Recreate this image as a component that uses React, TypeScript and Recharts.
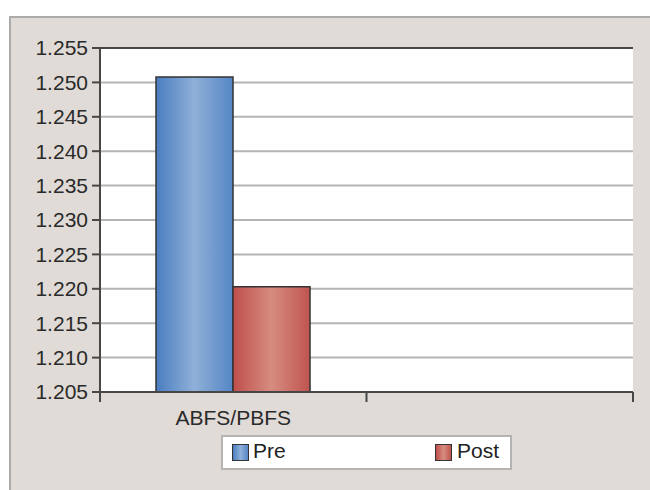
import React from "react";
import { BarChart, Bar, XAxis, YAxis, CartesianGrid, Legend, ReferenceLine } from "recharts";

const categories = ["ABFS/PBFS", ""];
const preValues = [1.2508, null];
const postValues = [1.2203, null];
const yTicks = [1.205, 1.21, 1.215, 1.22, 1.225, 1.23, 1.235, 1.24, 1.245, 1.25, 1.255];
const seriesNames = ["Pre", "Post"];
const seriesKeys = ["pre", "post"];

const data = categories.map((c, i) => ({ name: c, pre: preValues[i], post: postValues[i] }));

const Y_MIN = yTicks[0];
const Y_MAX = yTicks[yTicks.length - 1];

const FONT = "'Liberation Sans', Arial, sans-serif";
const AXIS = "#474747";
const FS = 21;
const X_TICK_SIZE = 10;
const X_TICK_MARGIN = 8;

const gradIds = ["gradPre", "gradPost"];

const CategoryTick = (props: any) => {
  const { x, y, payload, index } = props;
  const half = payload && payload.offset ? payload.offset : 0;
  const y0 = y - X_TICK_SIZE - X_TICK_MARGIN;
  const y1 = y - X_TICK_MARGIN;
  const isLast = index === categories.length - 1;
  return (
    <g>
      <line x1={x - half} x2={x - half} y1={y0} y2={y1} stroke={AXIS} strokeWidth={2} />
      {isLast && <line x1={x + half} x2={x + half} y1={y0} y2={y1} stroke={AXIS} strokeWidth={2} />}
      <text
        x={x}
        y={y}
        dy="0.71em"
        textAnchor="middle"
        fill="#2a2a2a"
        fontSize={FS}
        fontFamily={FONT}
      >
        {payload.value}
      </text>
    </g>
  );
};

const LegendBox = () => {
  const swLeft = [11, 214];
  const txtLeft = [32, 236];
  return (
    <div
      style={{
        position: "relative",
        width: 291,
        height: 35,
        background: "#fff",
        boxShadow: "inset 0 0 0 2px #b4b4b4",
        fontFamily: FONT,
        fontSize: FS,
        color: "#222",
      }}
    >
      {seriesNames.map((n, i) => (
        <React.Fragment key={n}>
          <div
            style={{
              position: "absolute",
              left: swLeft[i],
              top: 9,
              width: 17,
              height: 17,
              boxSizing: "border-box",
              border: "1.5px solid #333",
              background:
                i === 0
                  ? "linear-gradient(to right, #4a7ec0, #8fb0d8 50%, #5586c5)"
                  : "linear-gradient(to right, #bf4f4b, #d68c80 50%, #c0544f)",
            }}
          />
          <div style={{ position: "absolute", left: txtLeft[i], top: 4, lineHeight: "normal" }}>{n}</div>
        </React.Fragment>
      ))}
    </div>
  );
};

export default function App() {
  return (
    <div
      style={{
        position: "absolute",
        left: 0,
        top: 0,
        width: 650,
        height: 490,
        overflow: "hidden",
        background: "#fff",
      }}
    >
      <div
        style={{
          position: "absolute",
          left: 9,
          top: 16,
          width: 660,
          height: 500,
          background: "#e0dbd6",
          borderTop: "2px solid #ababab",
          borderLeft: "2px solid #ababab",
        }}
      />
      <div style={{ position: "absolute", left: 0, top: 0 }}>
        <BarChart
          width={650}
          height={490}
          data={data}
          margin={{ top: 48, right: 17, bottom: 68, left: 10 }}
          barGap={0}
          barSize={77}
        >
          <defs>
            <linearGradient id={gradIds[0]} x1="0" y1="0" x2="1" y2="0">
              <stop offset="0%" stopColor="#4a7ec0" />
              <stop offset="50%" stopColor="#8fb0d8" />
              <stop offset="100%" stopColor="#5586c5" />
            </linearGradient>
            <linearGradient id={gradIds[1]} x1="0" y1="0" x2="1" y2="0">
              <stop offset="0%" stopColor="#bf4f4b" />
              <stop offset="50%" stopColor="#d68c80" />
              <stop offset="100%" stopColor="#c0544f" />
            </linearGradient>
          </defs>
          <CartesianGrid vertical={false} stroke="#b5b5b5" strokeWidth={2} fill="#fff" />
          <ReferenceLine y={Y_MAX} stroke={AXIS} strokeWidth={2} />
          <XAxis
            dataKey="name"
            tickLine={false}
            axisLine={{ stroke: AXIS, strokeWidth: 2 }}
            tickSize={X_TICK_SIZE}
            tickMargin={X_TICK_MARGIN}
            height={30}
            interval={0}
            tick={<CategoryTick />}
          />
          <YAxis
            domain={[Y_MIN, Y_MAX]}
            ticks={yTicks}
            allowDataOverflow
            width={90}
            tickSize={8}
            tickMargin={4}
            tickFormatter={(v: number) => v.toFixed(3)}
            tickLine={{ stroke: AXIS, strokeWidth: 2 }}
            axisLine={{ stroke: AXIS, strokeWidth: 2 }}
            tick={{ fill: "#2a2a2a", fontSize: FS, fontFamily: FONT }}
          />
          <YAxis
            yAxisId="right"
            orientation="right"
            domain={[Y_MIN, Y_MAX]}
            tick={false}
            tickLine={false}
            width={0}
            axisLine={{ stroke: AXIS, strokeWidth: 2 }}
          />
          <Legend
            layout="vertical"
            align="center"
            verticalAlign="middle"
            content={() => <LegendBox />}
            wrapperStyle={{ left: 221, top: 435, width: 291, height: 35 }}
          />
          {seriesKeys.map((k, i) => (
            <Bar
              key={k}
              dataKey={k}
              name={seriesNames[i]}
              fill={`url(#${gradIds[i]})`}
              stroke="#333"
              strokeWidth={1.5}
              isAnimationActive={false}
            />
          ))}
        </BarChart>
      </div>
    </div>
  );
}
